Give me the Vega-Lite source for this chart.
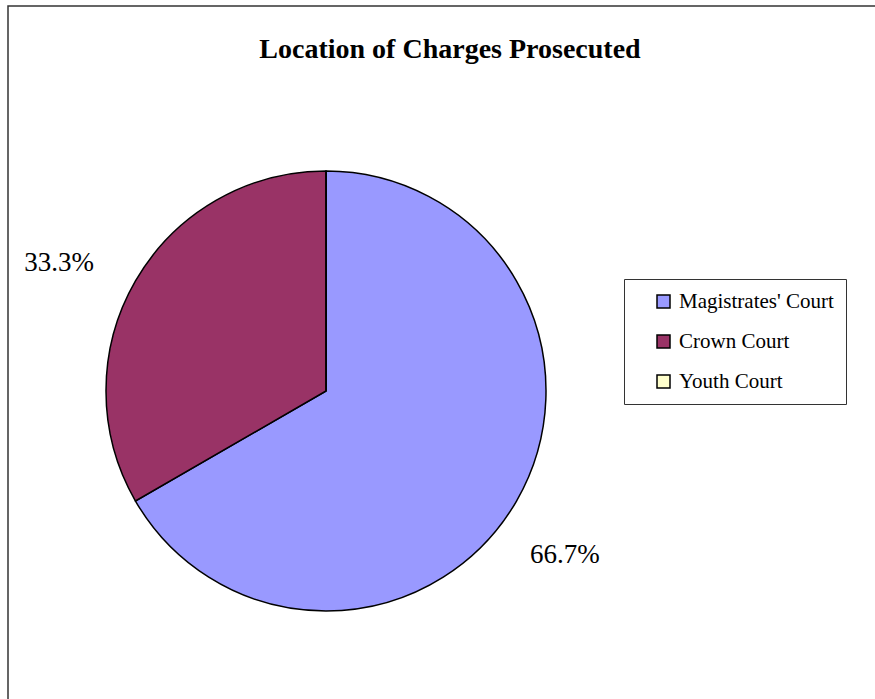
{
  "$schema": "https://vega.github.io/schema/vega-lite/v6.json",
  "width": 884,
  "height": 720,
  "autosize": {"type": "none"},
  "padding": {"left": 8, "top": 6, "right": 0, "bottom": 0},
  "background": "white",
  "view": {"stroke": "#333333", "strokeWidth": 1.5},
  "title": {
    "text": "Location of Charges Prosecuted",
    "font": "Liberation Serif",
    "fontSize": 28,
    "fontWeight": "bold",
    "color": "black",
    "anchor": "middle",
    "offset": -58
  },
  "data": {
    "values": [
      {"court": "Magistrates' Court", "value": 2, "order": 1, "label": "66.7%"},
      {"court": "Crown Court", "value": 1, "order": 2, "label": "33.3%"},
      {"court": "Youth Court", "value": 0, "order": 3, "label": ""}
    ]
  },
  "encoding": {
    "theta": {"field": "value", "type": "quantitative", "stack": true},
    "order": {"field": "order", "type": "quantitative"}
  },
  "layer": [
    {
      "mark": {"type": "arc", "outerRadius": 220, "stroke": "black", "strokeWidth": 1.5, "x": 318, "y": 385},
      "encoding": {
        "color": {
          "field": "court",
          "type": "nominal",
          "scale": {
            "domain": ["Magistrates' Court", "Crown Court", "Youth Court"],
            "range": ["#9999FF", "#993366", "#FFFFCC"]
          },
          "legend": {
            "title": null,
            "orient": "none",
            "legendX": 616,
            "legendY": 273,
            "strokeColor": "#333333",
            "padding": 12,
            "rowPadding": 18,
            "symbolType": "square",
            "symbolSize": 169,
            "symbolStrokeColor": "black",
            "symbolStrokeWidth": 1.5,
            "symbolOffset": 17,
            "labelOffset": 5,
            "labelFont": "Liberation Serif",
            "labelFontSize": 21,
            "labelColor": "black",
            "labelLimit": 0
          }
        }
      }
    },
    {
      "mark": {"type": "text", "radius": 292, "x": 318, "y": 385, "dx": -14, "dy": 18, "font": "Liberation Serif", "fontSize": 27, "align": "center", "baseline": "middle", "color": "black"},
      "encoding": {"text": {"field": "label", "type": "nominal"}}
    }
  ]
}
